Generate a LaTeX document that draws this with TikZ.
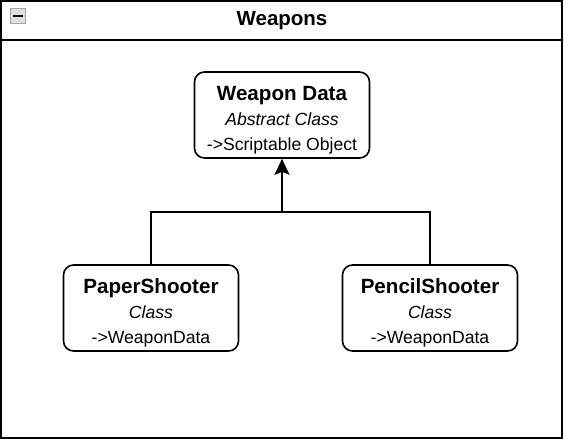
\documentclass[tikz,border=0pt]{standalone}
\usepackage{fontspec}
\setmainfont{Liberation Sans}
\usetikzlibrary{arrows.meta}
\tikzset{
  classbox/.style={draw=black, line width=1.6pt, rounded corners=10pt, fill=white,
    minimum width=175pt, minimum height=86pt, align=center, inner sep=0pt,
    font=\fontsize{17.6}{25}\selectfont},
  link/.style={draw=black, line width=1.8pt},
  frame/.style={draw=black, line width=2pt},
}
\newcommand{\clsname}[1]{{\fontsize{20.6}{25}\selectfont\bfseries\rule{0pt}{25pt}#1}}
\begin{document}
\begin{tikzpicture}[x=1pt,y=-1pt]
  \useasboundingbox (0,0) rectangle (564,440);
  \fill[white] (0,0) rectangle (564,440);
  % outer frame and header
  \draw[frame] (1,1) rectangle (562,438);
  \draw[frame] (1,40) -- (562,40);
  \node[font=\fontsize{20.5}{24}\selectfont\bfseries] (title) at (282,21) {Weapons};
  % collapse icon
  \node[draw=gray!70, fill=gray!25, line width=1pt, minimum width=15pt, minimum height=15pt, inner sep=0pt] (icon) at (18,16) {};
  \draw[line width=2pt] ([xshift=-5pt]icon.center) -- ([xshift=5pt]icon.center);
  % classes
  \node[classbox] (wd) at (282,115) {\clsname{Weapon Data}\\ \textit{Abstract Class}\\ ->Scriptable Object};
  \node[classbox] (paper) at (151,308) {\clsname{PaperShooter}\\ \textit{Class}\\ ->WeaponData};
  \node[classbox] (pencil) at (430,308) {\clsname{PencilShooter}\\ \textit{Class}\\ ->WeaponData};
  % connectors
  \coordinate (join) at (282,212);
  \draw[link] (paper.north) |- (join) -| (pencil.north);
  \draw[link, -{Stealth[length=16pt,width=15pt,inset=3pt]}] (join) -- (wd.south);
\end{tikzpicture}
\end{document}
